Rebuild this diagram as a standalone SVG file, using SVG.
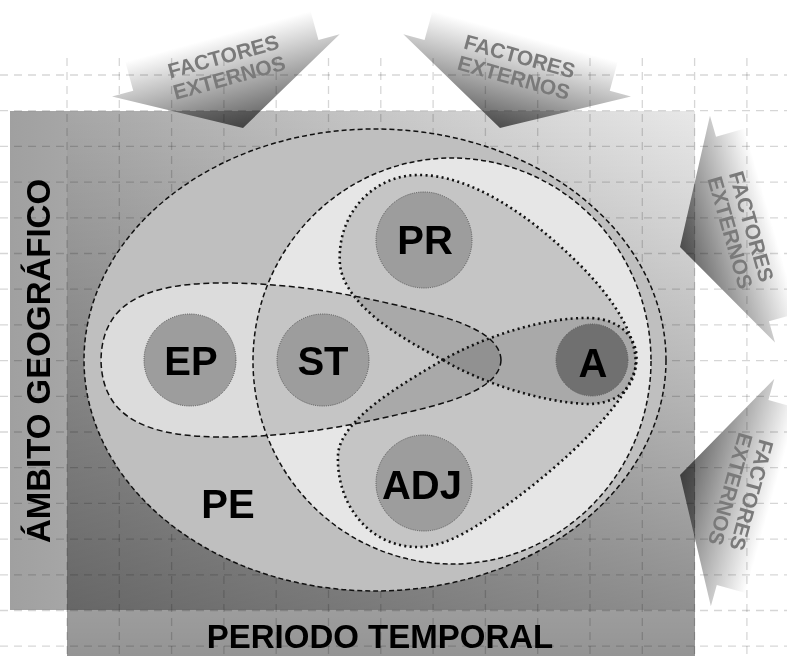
<svg xmlns="http://www.w3.org/2000/svg" width="787" height="656" viewBox="0 0 787 656">
<style>
.grid{fill:none;stroke:#000;stroke-opacity:0.16;stroke-width:1.3;stroke-dasharray:8 6}
.dash{fill:none;stroke:#111;stroke-width:1.5;stroke-dasharray:5 3}
.dot{fill:none;stroke:#111;stroke-width:2.6;stroke-dasharray:2 3.4}
.shade{fill:#000;fill-opacity:0.14}
.node{fill:#9d9d9d;stroke:#555;stroke-width:1;stroke-dasharray:1 1.2}
.lbl{font-family:"Liberation Sans",Arial,sans-serif;font-weight:bold;font-size:40px;fill:#000;text-anchor:middle}
.ax{font-family:"Liberation Sans",Arial,sans-serif;font-weight:bold;font-size:33px;fill:#000;text-anchor:middle}
.fe{font-family:"Liberation Sans",Arial,sans-serif;font-weight:bold;font-size:21px;fill:#7a7a7a;text-anchor:middle}
.arrow{fill:url(#gArrow);mix-blend-mode:multiply}
</style>
<defs>
  <linearGradient id="gR1" x1="10" y1="0" x2="696" y2="0" gradientUnits="userSpaceOnUse">
    <stop offset="0" stop-color="#a0a0a0"/>
    <stop offset="1" stop-color="#e8e8e8"/>
  </linearGradient>
  <linearGradient id="gR2" x1="0" y1="111" x2="0" y2="656" gradientUnits="userSpaceOnUse">
    <stop offset="0" stop-color="#000" stop-opacity="0"/>
    <stop offset="1" stop-color="#000" stop-opacity="0.42"/>
  </linearGradient>
  <linearGradient id="gArrow" x1="0" y1="-95" x2="0" y2="0" gradientUnits="userSpaceOnUse">
    <stop offset="0" stop-color="#ffffff"/>
    <stop offset="1" stop-color="#5e5e5e"/>
  </linearGradient>
  <clipPath id="cInner"><ellipse cx="452" cy="361" rx="199" ry="203"/></clipPath>
  <polygon id="arrowShape" points="0,0 118,-65 96,-65 96,-95 -96,-95 -96,-65 -118,-65"/>
  <path id="pEPST" d="M501,360 C500,334 460,320 413,309 C355,295 300,284 230,283 C150,282 102,300 101,360 C102,420 150,438 230,437 C300,436 355,425 413,411 C460,400 500,386 501,360 Z"/>
  <path id="pUp" d="M443,360 C400,338 345,305 340,265 C336,215 372,176 417,175 C470,174 530,215 580,265 C615,300 640,340 635,370 C630,395 610,404 587,404 C540,402 480,382 443,360 Z"/>
  <path id="pLow" d="M443,360 C485,336 545,317 590,318 C622,319 640,340 636,365 C630,400 570,460 500,510 C465,535 440,548 415,547 C365,545 336,500 338,455 C340,420 400,385 443,360 Z"/>
</defs>

<rect width="787" height="656" fill="#fff"/>

<g id="background">
  <rect x="10" y="111" width="685" height="499" fill="url(#gR1)"/>
  <rect x="67" y="111" width="628" height="545" fill="url(#gR2)"/>
</g>

<g id="grid" class="grid">
  <path d="M0,75H787M0,110.7H787M0,146.4H787M0,182.1H787M0,217.8H787M0,253.5H787M0,289.2H787M0,324.9H787M0,360.6H787M0,396.3H787M0,432H787M0,467.7H787M0,503.4H787M0,539.1H787M0,574.8H787M0,610.5H787M0,646.2H787"/>
  <path d="M67,58V656M119.3,58V656M171.6,58V656M223.9,58V656M276.2,58V656M328.5,58V656M380.8,58V656M433.1,58V656M485.4,58V656M537.7,58V656M590,58V656M642.3,58V656M694.6,58V656M746.9,58V656"/>
</g>

<g id="factores1" transform="translate(243,128) rotate(-15.3)">
  <use href="#arrowShape" class="arrow"/>
  <text class="fe" x="0" y="-67">FACTORES</text>
  <text class="fe" x="0" y="-45">EXTERNOS</text>
</g>
<g id="factores2" transform="translate(500,128) rotate(15.3)">
  <use href="#arrowShape" class="arrow"/>
  <text class="fe" x="0" y="-67">FACTORES</text>
  <text class="fe" x="0" y="-45">EXTERNOS</text>
</g>
<g id="factores3" transform="translate(680,247) rotate(74)">
  <use href="#arrowShape" class="arrow"/>
  <text class="fe" x="0" y="-67">FACTORES</text>
  <text class="fe" x="0" y="-45">EXTERNOS</text>
</g>
<g id="factores4" transform="translate(680,475) rotate(105.6)">
  <use href="#arrowShape" class="arrow"/>
  <text class="fe" x="0" y="-67">FACTORES</text>
  <text class="fe" x="0" y="-45">EXTERNOS</text>
</g>

<g id="PE">
  <ellipse cx="375" cy="360" rx="291" ry="231" fill="#bfbfbf"/>
</g>
<g id="regions">
  <use href="#pEPST" fill="#dcdcdc"/>
  <ellipse cx="452" cy="361" rx="199" ry="203" fill="#e6e6e6"/>
  <g clip-path="url(#cInner)"><use href="#pEPST" class="shade"/></g>
  <use href="#pUp" class="shade"/>
  <use href="#pLow" class="shade"/>
</g>
<g id="outlines">
  <ellipse cx="375" cy="360" rx="291" ry="231" class="dash"/>
  <ellipse cx="452" cy="361" rx="199" ry="203" class="dash"/>
  <use href="#pEPST" class="dash" style="stroke-dasharray:6 3.5"/>
  <use href="#pUp" class="dot"/>
  <use href="#pLow" class="dot"/>
</g>

<g id="node-EP">
  <circle cx="190" cy="360" r="46" class="node"/>
  <text class="lbl" x="191" y="375">EP</text>
</g>
<g id="node-ST">
  <circle cx="323" cy="360" r="46" class="node"/>
  <text class="lbl" x="323" y="375">ST</text>
</g>
<g id="node-PR">
  <circle cx="424" cy="240" r="48" class="node"/>
  <text class="lbl" x="425" y="254">PR</text>
</g>
<g id="node-ADJ">
  <circle cx="424" cy="483" r="48" class="node"/>
  <text class="lbl" x="422" y="499">ADJ</text>
</g>
<g id="node-A">
  <circle cx="592" cy="360" r="36" class="node" style="fill:#707070"/>
  <text class="lbl" x="593" y="377">A</text>
</g>
<g id="label-PE">
  <text class="lbl" x="228" y="518">PE</text>
</g>

<g id="axis-labels">
  <text class="ax" transform="translate(50,361) rotate(-90)">ÁMBITO GEOGRÁFICO</text>
  <text class="ax" x="380" y="648">PERIODO TEMPORAL</text>
</g>
</svg>
